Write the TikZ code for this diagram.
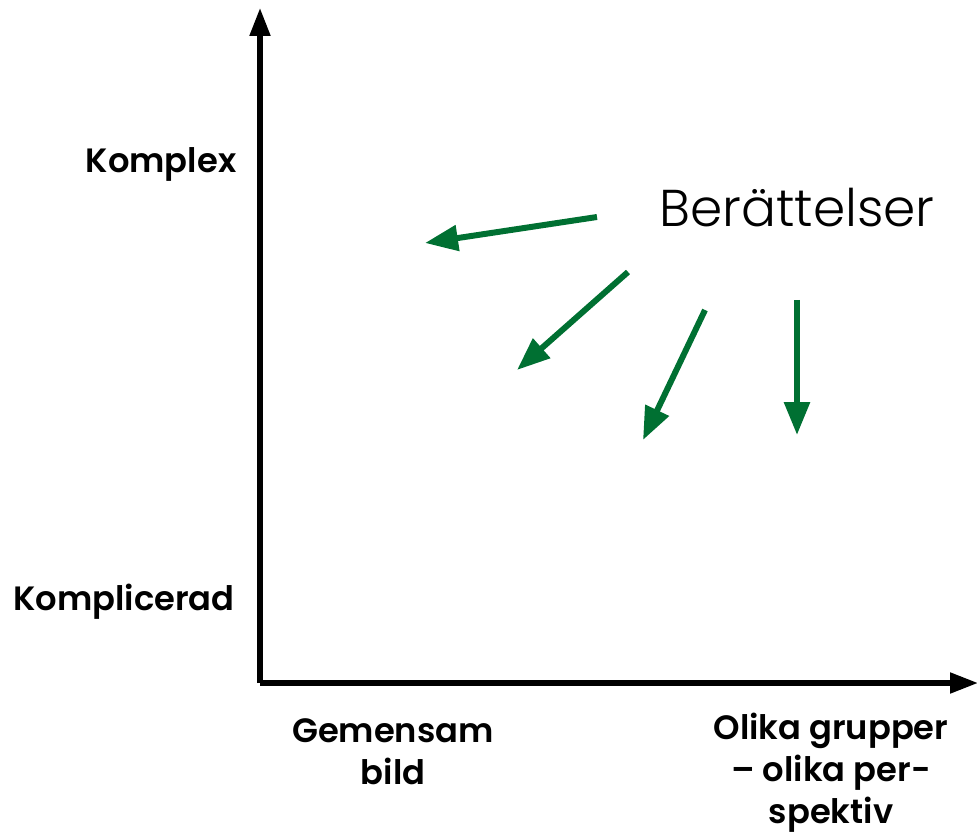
\documentclass[tikz,border=0pt]{standalone}
\usepackage{fontspec}
\setmainfont{Poppins}[BoldFont={Poppins SemiBold}]
\newfontfamily\lightfont{Poppins Light}
\usetikzlibrary{arrows.meta,positioning}
\definecolor{storygreen}{HTML}{007032}
\tikzset{
    every node/.style={font=\bfseries\fontsize{19.2}{24}\selectfont},
    axis/.style={line width=2.9pt,-{Triangle[length=0.56cm,width=0.4cm]}},
    story/.style={draw=storygreen,line width=3.4pt,-{Triangle[length=0.66cm,width=0.5cm]}},
    axislabel/.style={align=center,inner sep=0pt},
    title/.style={font=\lightfont\fontsize{29.5}{36}\selectfont,inner sep=0pt}
}
\begin{document}
\begin{tikzpicture}[x=0.02cm,y=-0.02cm]
\useasboundingbox (0,0) rectangle (977,837);
% axes
\coordinate (origin) at (260,683);
\coordinate (ytop) at (260,8);
\coordinate (xend) at (978,683);
\draw[axis] (origin) -- (ytop);
\draw[axis] (origin) -- (xend);
% labels
\node[axislabel] (komplex) at (161,164) {Komplex};
\node[axislabel] (komplicerad) at (124,602) {Komplicerad};
\node[axislabel] (gemensam) at (393,752) {Gemensam\\bild};
\node[axislabel] (olika) at (831,773) {Olika grupper\\– olika per-\\spektiv};
\node[title,anchor=base] (berattelser) at (797,227) {Berättelser};
% arrows
\foreach \i/\sx/\sy/\ex/\ey in {1/597/217/425/243,2/628/272/517/370,3/705/310/643/440,4/797/300/797/435}{
    \coordinate (s\i) at (\sx,\sy);
    \coordinate (e\i) at (\ex,\ey);
    \draw[story] (s\i) -- (e\i);
}
\end{tikzpicture}
\end{document}
